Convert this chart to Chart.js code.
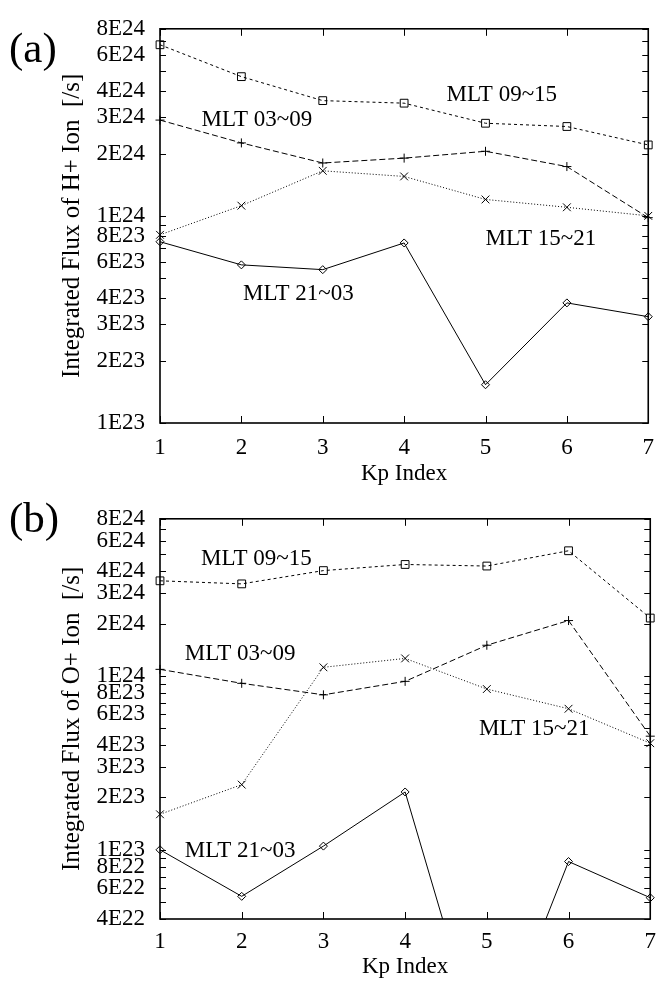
<!DOCTYPE html>
<html>
<head>
<meta charset="utf-8">
<script src="https://cdn.jsdelivr.net/npm/chart.js@4.4.1/dist/chart.umd.min.js"></script>
<style>
  html, body { margin: 0; padding: 0; background: #fff; }
  #wrap { position: relative; width: 665px; height: 981px; }
  canvas { position: absolute; left: 0; }
  #fluxH { top: 0; }
  #fluxO { top: 490px; }
</style>
</head>
<body>
<div id="wrap">
  <canvas id="fluxH" width="665" height="490"></canvas>
  <canvas id="fluxO" width="665" height="491"></canvas>
</div>
<script>
var kp = [1, 2, 3, 4, 5, 6, 7];
var sectors = ['MLT 09~15', 'MLT 03~09', 'MLT 15~21', 'MLT 21~03'];

// integrated H+ flux [/s], one array per MLT sector
var hFlux0915 = [6.7e24, 4.7e24, 3.6e24, 3.5e24, 2.8e24, 2.7e24, 2.2e24];
var hFlux0309 = [2.9e24, 2.25e24, 1.8e24, 1.9e24, 2.05e24, 1.73e24, 9.8e23];
var hFlux1521 = [8.1e23, 1.12e24, 1.65e24, 1.55e24, 1.2e24, 1.1e24, 1.0e24];
var hFlux2103 = [7.5e23, 5.8e23, 5.5e23, 7.4e23, 1.53e23, 3.8e23, 3.26e23];

// integrated O+ flux [/s]
var oFlux0915 = [3.52e24, 3.38e24, 4.03e24, 4.37e24, 4.28e24, 5.24e24, 2.15e24];
var oFlux0309 = [1.09e24, 9.06e23, 7.78e23, 9.3e23, 1.5e24, 2.08e24, 4.5e23];
var oFlux1521 = [1.6e23, 2.37e23, 1.12e24, 1.26e24, 8.4e23, 6.47e23, 4.1e23];
var oFlux2103 = [1.0e23, 5.4e22, 1.05e23, 2.15e23, 5.5e21, 8.56e22, 5.3e22];

var hTickLabels = ['8E24', '6E24', '4E24', '3E24', '2E24', '1E24', '8E23', '6E23', '4E23', '3E23', '2E23', '1E23'];
var oTickLabels = ['8E24', '6E24', '4E24', '3E24', '2E24', '1E24', '8E23', '6E23', '4E23', '3E23', '2E23', '1E23', '8E22', '6E22', '4E22'];

var serif = "'Liberation Serif', 'Times New Roman', serif";

// line / marker look for each sector, same order as sectors
var looks = [
  { dash: [3, 3], point: 'rect', r: 5.5 },
  { dash: [6, 3], point: 'cross', r: 4.5 },
  { dash: [1, 2], point: 'crossRot', r: 5.5 },
  { dash: [], point: 'rectRot', r: 4 }
];

// gnuplot-like box with inward ticks, sector names and panel letter
var frameMarks = {
  id: 'frameMarks',
  afterDatasetsDraw: function(chart, args, opts) {
    var ctx = chart.ctx, a = chart.chartArea;
    var xs = chart.scales.x, ys = chart.scales.y;
    ctx.save();
    ctx.strokeStyle = '#000';
    ctx.lineWidth = 1;
    ctx.beginPath();
    ys.ticks.forEach(function(t) {
      var y = Math.round(ys.getPixelForValue(t.value)) + 0.5;
      ctx.moveTo(a.left, y); ctx.lineTo(a.left + 6, y);
      ctx.moveTo(a.right, y); ctx.lineTo(a.right - 6, y);
    });
    xs.ticks.forEach(function(t) {
      var x = Math.round(xs.getPixelForValue(t.value)) + 0.5;
      ctx.moveTo(x, a.bottom); ctx.lineTo(x, a.bottom - 7);
      ctx.moveTo(x, a.top); ctx.lineTo(x, a.top + 7);
    });
    ctx.stroke();
    ctx.lineWidth = 1.6;
    ctx.strokeRect(a.left, a.top, a.right - a.left, a.bottom - a.top);

    ctx.fillStyle = '#000';
    ctx.font = '23px ' + serif;
    ctx.textAlign = 'center';
    ctx.textBaseline = 'middle';
    opts.notes.forEach(function(n) {
      ctx.fillText(n.text, xs.getPixelForValue(n.kp), ys.getPixelForValue(n.flux));
    });

    ctx.font = '43px ' + serif;
    ctx.textAlign = 'left';
    ctx.textBaseline = 'alphabetic';
    ctx.fillText(opts.letter, 9, opts.letterY);
    ctx.restore();
  }
};

function logTicks(min, max) {
  var out = [];
  for (var e = 21; e <= 25; e++) {
    for (var m = 1; m <= 9; m++) {
      var v = parseFloat(m + 'e' + e);
      if (v >= min * 0.999 && v <= max * 1.001) out.push({ value: v });
    }
  }
  return out;
}

function makePanel(id, series, yMin, yMax, labels, yTitle, box, extra) {
  var labelValues = labels.map(Number);
  var datasets = series.map(function(vals, i) {
    var lk = looks[i];
    return {
      label: sectors[i],
      data: kp.map(function(k, j) { return { x: k, y: vals[j] }; }),
      borderColor: '#000',
      borderWidth: 1,
      borderDash: lk.dash,
      pointStyle: lk.point,
      pointRadius: lk.r,
      pointBorderWidth: 1,
      pointBorderColor: '#000',
      pointBackgroundColor: 'rgba(0,0,0,0)',
      fill: false,
      tension: 0,
      clip: { left: 8, right: 8, top: 8, bottom: 0 }
    };
  });

  return new Chart(document.getElementById(id), {
    type: 'line',
    data: { datasets: datasets },
    options: {
      responsive: false,
      animation: false,
      devicePixelRatio: 1,
      layout: { padding: { top: box.top, right: 6, left: 0, bottom: 0 } },
      plugins: {
        legend: { display: false },
        tooltip: { enabled: false },
        frameMarks: extra
      },
      scales: {
        x: {
          type: 'linear',
          min: 1,
          max: 7,
          grid: { display: false, drawTicks: false },
          border: { display: false },
          ticks: {
            stepSize: 1,
            color: '#000',
            padding: box.xPad,
            font: { family: serif, size: 23 }
          },
          title: {
            display: true,
            text: 'Kp Index',
            color: '#000',
            font: { family: serif, size: 23 },
            padding: { top: 0, bottom: box.titlePad }
          },
          afterFit: function(scale) { scale.height = box.xHeight; }
        },
        y: {
          type: 'logarithmic',
          min: yMin,
          max: yMax,
          grid: { display: false, drawTicks: false },
          border: { display: false },
          afterBuildTicks: function(scale) { scale.ticks = logTicks(yMin, yMax); },
          ticks: {
            autoSkip: false,
            color: '#000',
            padding: 15,
            font: { family: serif, size: 23 },
            callback: function(v) {
              var k = labelValues.indexOf(v);
              return k < 0 ? '' : labels[k];
            }
          },
          title: {
            display: true,
            text: yTitle,
            color: '#000',
            font: { family: serif, size: 25 },
            padding: { top: 57, bottom: 0 }
          },
          afterFit: function(scale) { scale.width = 160; }
        }
      }
    },
    plugins: [frameMarks]
  });
}

makePanel('fluxH', [hFlux0915, hFlux0309, hFlux1521, hFlux2103], 1e23, 8e24, hTickLabels,
  'Integrated Flux of H+ Ion  [/s]',
  { top: 20, xHeight: 67, xPad: 11, titlePad: 2 },
  {
    letter: '(a)', letterY: 62,
    notes: [
      { text: sectors[0], kp: 5.2, flux: 3.82e24 },
      { text: sectors[1], kp: 2.19, flux: 2.9e24 },
      { text: sectors[2], kp: 5.68, flux: 7.7e23 },
      { text: sectors[3], kp: 2.7, flux: 4.2e23 }
    ]
  });

makePanel('fluxO', [oFlux0915, oFlux0309, oFlux1521, oFlux2103], 4e22, 8e24, oTickLabels,
  'Integrated Flux of O+ Ion  [/s]',
  { top: 25, xHeight: 62, xPad: 9, titlePad: 0 },
  {
    letter: '(b)', letterY: 42,
    notes: [
      { text: sectors[0], kp: 2.18, flux: 4.73e24 },
      { text: sectors[1], kp: 1.98, flux: 1.33e24 },
      { text: sectors[2], kp: 5.58, flux: 4.96e23 },
      { text: sectors[3], kp: 1.98, flux: 9.9e22 }
    ]
  });
</script>
</body>
</html>
